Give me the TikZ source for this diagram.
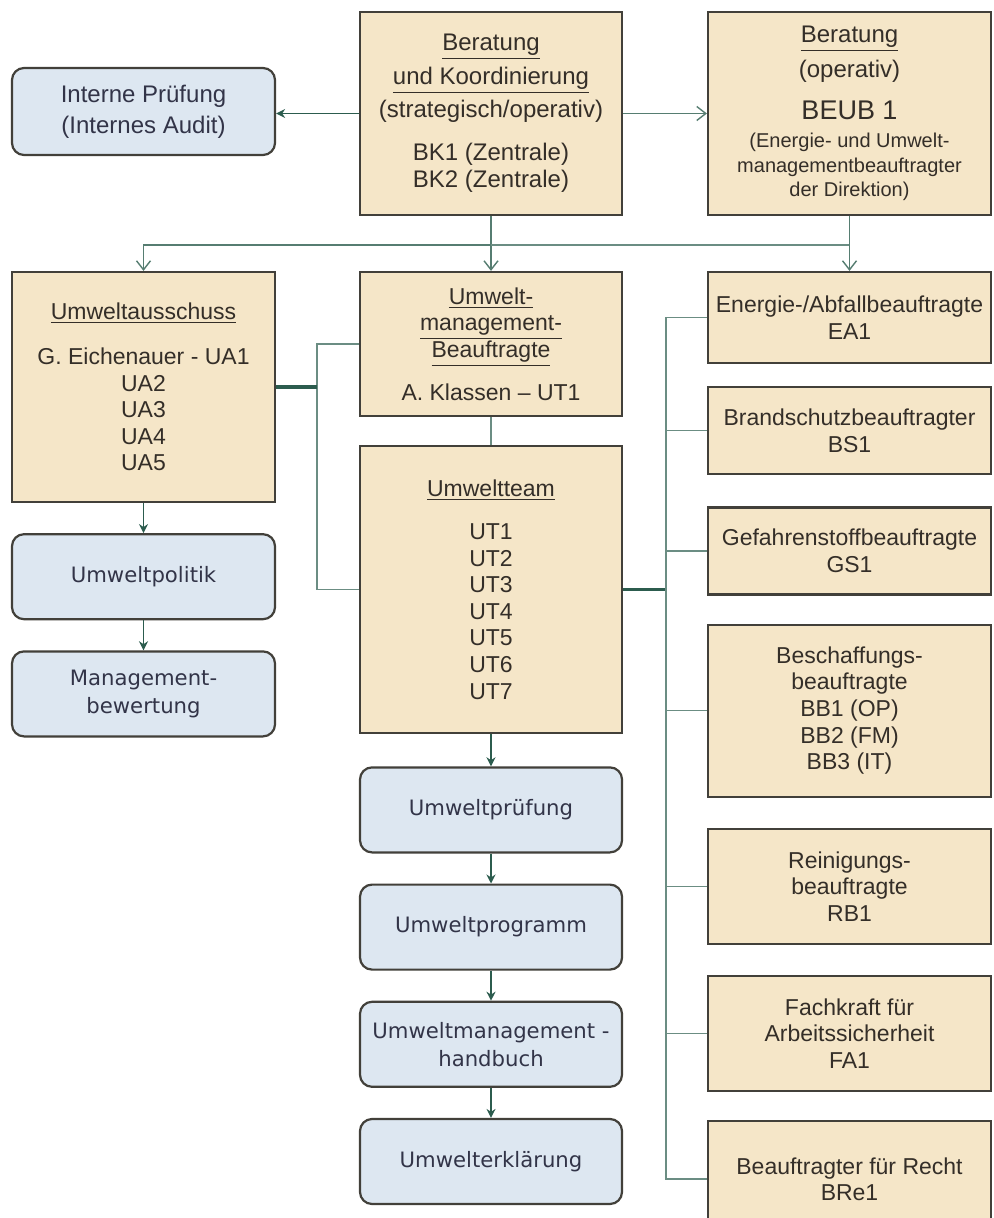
\documentclass[tikz,border=0pt]{standalone}
\usepackage{fontspec}
\setmainfont{Liberation Sans}
\newfontfamily\panelfont{DejaVu Sans}
\usetikzlibrary{arrows.meta, positioning}
\definecolor{tanfill}{RGB}{245,230,200}
\definecolor{bluefill}{RGB}{221,231,241}
\definecolor{edgegray}{RGB}{66,64,58}
\definecolor{linkgreen}{RGB}{44,92,78}
\definecolor{inkbrown}{RGB}{52,46,40}
\definecolor{inkblue}{RGB}{50,52,72}
\newcommand{\notesize}{\fontsize{10}{12}\selectfont}

\begin{document}
\begin{tikzpicture}[
    x=0.5pt, y=-0.5pt,
    node distance=15pt,
    tanbox/.style={rectangle, draw=edgegray, line width=1.1pt, fill=tanfill, text=inkbrown, align=center, inner sep=2pt, minimum width=131pt, font=\fontsize{11.5}{13.3}\selectfont},
    widebox/.style={tanbox, minimum width=141.5pt},
    bluebox/.style={rectangle, rounded corners=6pt, draw=edgegray, line width=1.1pt, fill=bluefill, text=inkblue, align=center, minimum width=131pt, minimum height=42.5pt, font=\panelfont\fontsize{10.6}{14}\selectfont},
    flow/.style={-{Stealth[length=4.5pt,width=4.5pt]}, line width=0.8pt, draw=linkgreen},
    branch/.style={-{Straight Barb[length=4.5pt,width=7pt]}, line width=0.7pt, draw=linkgreen!80!white},
    link/.style={line width=0.75pt, draw=linkgreen!70!white},
    trunk/.style={line width=1.6pt, draw=linkgreen}
]
    \useasboundingbox[fill=white] (0,0) rectangle (993,1218);

    \node[tanbox, minimum height=101.5pt, font=\fontsize{12}{13.5}\selectfont] (bk) at (491,113.5) {\underline{Beratung}\\[3.2pt] \underline{und Koordinierung}\\[3.2pt] (strategisch/operativ)\\[8pt] BK1 (Zentrale)\\ BK2 (Zentrale)};
    \node[widebox, minimum height=101.5pt, font=\fontsize{12}{13.5}\selectfont] (beratop) at (849.5,113.5) {\underline{Beratung}\\[4pt] (operativ)\\[7.5pt] {\fontsize{13.5}{14}\selectfont BEUB 1}\\[0.5pt] {\notesize (Energie- und Umwelt-}\\[-1.2pt] {\notesize managementbeauftragter}\\[-1.2pt] {\notesize der Direktion)}};
    \node[bluebox, minimum width=131.5pt, minimum height=43.5pt, font=\fontsize{12}{15.5}\selectfont] (interne) at (143.5,111.5) {Interne Prüfung\\ (Internes Audit)};

    \node[tanbox, minimum width=131.5pt, minimum height=115pt] (ausschuss) at (143.5,387) {\underline{Umweltausschuss}\\[9.2pt] G. Eichenauer - UA1\\ UA2\\ UA3\\ UA4\\ UA5};
    \node[bluebox, minimum width=131.5pt, below=15pt of ausschuss] (politik) {Umweltpolitik};
    \node[bluebox, minimum width=131.5pt, below=15pt of politik] (bewertung) {Management-\\ bewertung};

    \node[tanbox, minimum height=72pt] (umb) at (491,344) {\underline{Umwelt-}\\ \underline{management-}\\ \underline{Beauftragte}\\[8pt] A. Klassen -- UT1};
    \node[tanbox, minimum height=143.5pt, below=14pt of umb] (team) {\underline{Umweltteam}\\[8pt] UT1\\ UT2\\ UT3\\ UT4\\ UT5\\ UT6\\ UT7};
    \node[bluebox, below=16pt of team] (pruefung) {Umweltprüfung};
    \node[bluebox, below=of pruefung] (programm) {Umweltprogramm};
    \node[bluebox, below=of programm] (handbuch) {Umweltmanagement -\\ handbuch};
    \node[bluebox, below=of handbuch] (erklaerung) {Umwelterklärung};

    \node[widebox, minimum height=45.5pt] (energie) at (849.5,317.5) {Energie-/Abfallbeauftragte\\ EA1};
    \node[widebox, minimum height=43.5pt, below=11pt of energie] (brand) {Brandschutzbeauftragter\\ BS1};
    \node[widebox, minimum height=43.5pt, below=15.5pt of brand] (gefahr) {Gefahrenstoffbeauftragte\\ GS1};
    \node[widebox, minimum height=86pt, below=14pt of gefahr] (beschaff) {Beschaffungs-\\ beauftragte\\ BB1 (OP)\\ BB2 (FM)\\ BB3 (IT)};
    \node[widebox, minimum height=57.5pt, below=of beschaff] (reinig) {Reinigungs-\\ beauftragte\\ RB1};
    \node[widebox, minimum height=57.5pt, below=of reinig] (fach) {Fachkraft für\\ Arbeitssicherheit\\ FA1};
    \node[widebox, minimum height=58pt, below=14pt of fach] (recht) {Beauftragter für Recht\\ BRe1};

    \coordinate (split) at ([yshift=-14.5pt]bk.south);
    \coordinate (lbus) at ([xshift=-21pt]umb.west);
    \coordinate (rbus) at ([xshift=-20.5pt]energie.west);

    \draw[flow] (bk.west) -- (bk.west -| interne.east);
    \draw[branch] (bk.east) -- (bk.east -| beratop.west);
    \draw[branch] (bk) -- (umb);
    \draw[branch] (split) -| (ausschuss);
    \draw[link] (split) -- (split -| energie);
    \draw[branch] (beratop) -- (energie);

    \draw[link] (umb) -- (team);
    \draw[link] (umb.west) -- (lbus) |- (team.west);
    \draw[trunk] (ausschuss.east) -- (ausschuss.east -| lbus);
    \draw[trunk] (team.east) -- (team.east -| rbus);
    \draw[link] (rbus) |- (recht.west);
    \foreach \n in {energie, brand, gefahr, beschaff, reinig, fach}
        \draw[link] (\n.west) -- (\n.west -| rbus);

    \foreach \a/\b in {ausschuss/politik, politik/bewertung, team/pruefung, pruefung/programm, programm/handbuch, handbuch/erklaerung}
        \draw[flow] (\a) -- (\b);
\end{tikzpicture}
\end{document}
